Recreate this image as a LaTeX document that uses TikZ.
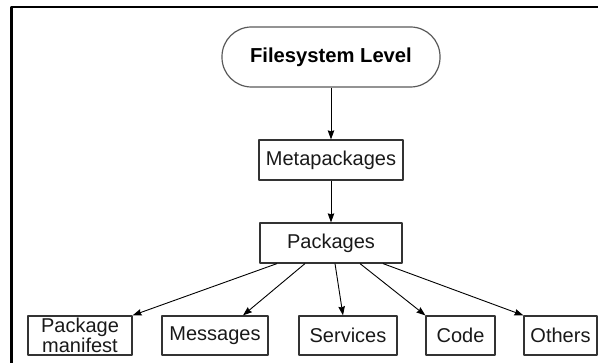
\documentclass[tikz,border=0pt]{standalone}
\usepackage{fontspec}
\setmainfont{Liberation Sans}
\usetikzlibrary{arrows.meta}
\begin{document}
\begin{tikzpicture}[x=1pt,y=1pt,>={Stealth[length=9pt,width=6.5pt,inset=1pt]},line join=round,
  font=\fontsize{20}{18.5}\selectfont,
  box/.style={draw=black!80,line width=1.2pt,rectangle,inner sep=0pt,minimum height=39pt,text=black!90,align=center},
  level/.style={draw=black!65,line width=1.2pt,rounded corners=29.5pt,minimum width=218pt,minimum height=60pt,font=\fontsize{20.2}{22}\selectfont\bfseries},
  link/.style={->,line width=0.9pt}]
\def \w{598};
\def \h{363};
\def \yb{27.5};
\useasboundingbox (0,0) rectangle (\w,\h);
\clip (0,0) rectangle (\w,\h);
\draw[line width=2.2pt] (11.5,-10) rectangle (\w+20,356);
\node[level] (fs) at (331,306) {Filesystem Level};
\node[box,minimum width=144pt,minimum height=40pt] (meta) at (331,203) {Metapackages};
\node[box,minimum width=142pt,minimum height=40pt] (pkg) at (331,120) {Packages};
\node[box,minimum width=104pt] (manif) at (80,\yb) {Package\\manifest};
\node[box,minimum width=106pt] (msg) at (215,\yb) {Messages};
\node[box,minimum width=98pt] (srv) at (348,\yb) {Services};
\node[box,minimum width=69pt] (code) at (460.5,\yb) {Code};
\node[box,minimum width=73pt] (oth) at (560.5,\yb) {Others};
\draw[link] (fs) -- (meta);
\draw[link] (meta) -- (pkg);
\draw[link] ([xshift=-54pt]pkg.south) -- (manif.north east);
\draw[link] ([xshift=-26pt]pkg.south) -- ([xshift=28pt]msg.north);
\draw[link] ([xshift=4pt]pkg.south) -- ([xshift=-5pt]srv.north);
\draw[link] ([xshift=29pt]pkg.south) -- (code.north west);
\draw[link] ([xshift=52pt]pkg.south) -- (oth.north west);
\end{tikzpicture}
\end{document}
